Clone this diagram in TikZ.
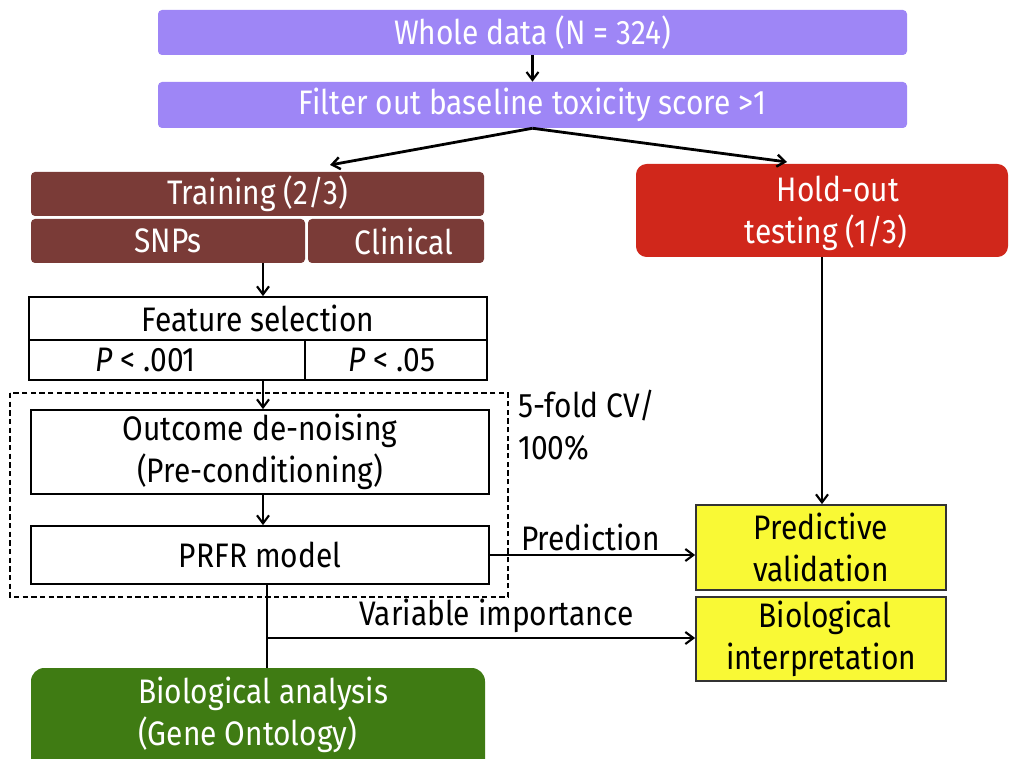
\documentclass[tikz,border=0pt]{standalone}
\usepackage{fontspec}
\setmainfont{Fira Sans}[FakeStretch=0.88]
\usetikzlibrary{arrows.meta}
\definecolor{cpurple}{HTML}{9E86F6}
\definecolor{cbrown}{HTML}{7A3B37}
\definecolor{cred}{HTML}{D0271B}
\definecolor{cgreen}{HTML}{3F7B13}
\definecolor{cyellow}{HTML}{F9F935}
\tikzset{
  every node/.style={font=\fontsize{25.5}{31.5}\selectfont, inner sep=0pt},
  colbox/.style={rounded corners=3pt, text=white, align=center},
  wbox/.style={draw=black, line width=1.3pt, fill=white, align=center},
  ybox/.style={draw=black!80, line width=1.3pt, fill=cyellow, align=center},
  conn/.style={line width=1.6pt, -{Straight Barb[length=6pt,width=9pt,line width=1.6pt]}},
  thickconn/.style={line width=2.1pt, -{Straight Barb[length=6pt,width=9pt,line width=1.8pt]}},
  plain/.style={line width=1.6pt},
}
\begin{document}
\begin{tikzpicture}[x=0.75pt,y=-0.75pt]
\useasboundingbox (0,0) rectangle (1010,759);
\begin{scope}
\clip (0,0) rectangle (1010,759);
\node[colbox, fill=cpurple, minimum width=561.75pt, minimum height=33.75pt] (whole) at (532.5,32.5) {Whole data (N = 324)};
\node[colbox, fill=cpurple, minimum width=561.75pt, minimum height=34.5pt] (filter) at (532.5,105) {Filter out baseline toxicity score >1};
\node[colbox, fill=cbrown, minimum width=339.75pt, minimum height=33pt] (train) at (257.5,194) {Training (2/3)};
\node[colbox, fill=cbrown, minimum width=205.5pt, minimum height=33pt] (snps) at (168,241) {SNPs};
\node[colbox, fill=cbrown, minimum width=132pt, minimum height=33pt] (clin) at (396,241) {\hspace*{12pt}Clinical};
\node[colbox, rounded corners=8pt, fill=cred, minimum width=279pt, minimum height=69.75pt] (hold) at (822,210.5) {};
\node[text=white, align=center] (holdt) at (826,213) {\hspace*{18pt}Hold-out\\testing (1/3)};
\node[wbox, minimum width=343.5pt, minimum height=32.25pt] (feat) at (258,318.5) {Feature selection};
\node[wbox, minimum width=207pt, minimum height=30pt] (p1) at (167,360) {\textit{P} < .001\hspace*{32pt}};
\node[wbox, minimum width=136.5pt, minimum height=30pt] (p2) at (396,360) {\textit{P} < .05\hspace*{6pt}};
\draw[line width=1.1pt, dashed, dash pattern=on 4pt off 2.5pt] (10,393) rectangle (508,597);
\node[wbox, minimum width=343.5pt, minimum height=63pt] (outc) at (260,452) {Outcome de-noising\\(Pre-conditioning)};
\node[wbox, minimum width=343.5pt, minimum height=43.5pt] (prfr) at (260,555) {PRFR model};
\node[ybox, minimum width=187.5pt, minimum height=63.75pt] (pred) at (821,547.5) {Predictive\\validation};
\node[ybox, minimum width=187.5pt, minimum height=63pt] (bint) at (821,639) {\hspace*{6pt}Biological\\interpretation};
\node[colbox, rounded corners=10pt, fill=cgreen, minimum width=340.5pt, minimum height=80.25pt] (bana) at (258,721.5) {};
\node[text=white, align=left, anchor=west] (banat) at (138,715) {Biological analysis\\(Gene Ontology)};
\node[anchor=north west, align=left] (cv) at (518,390) {5-fold CV/\\100\%};
\end{scope}
% connectors
\draw[conn] (whole.south) -- (filter.north);
\coordinate (tl) at (330,165);
\coordinate (tr) at (787,162);
\draw[thickconn] (filter.south) -- (tl);
\draw[thickconn] (filter.south) -- (tr);
\draw[conn] (snps.south -| 263,0) -- (feat.north -| 263,0);
\draw[conn] (p1.south -| 263,0) -- (outc.north -| 263,0);
\draw[conn] (outc.south -| 263,0) -- (prfr.north -| 263,0);
\draw[conn] (hold.south) -- (pred.north -| hold.south);
\draw[conn] (prfr.east) -- node[above, pos=0.49, yshift=2pt]{Prediction} (pred.west |- prfr.east);
\coordinate (vj) at (267,638);
\draw[plain] (prfr.south -| 267,0) -- (bana.north -| 267,0);
\draw[conn] (vj) -- node[above, pos=0.536, yshift=3pt]{Variable importance} (bint.west |- vj);
\end{tikzpicture}
\end{document}
